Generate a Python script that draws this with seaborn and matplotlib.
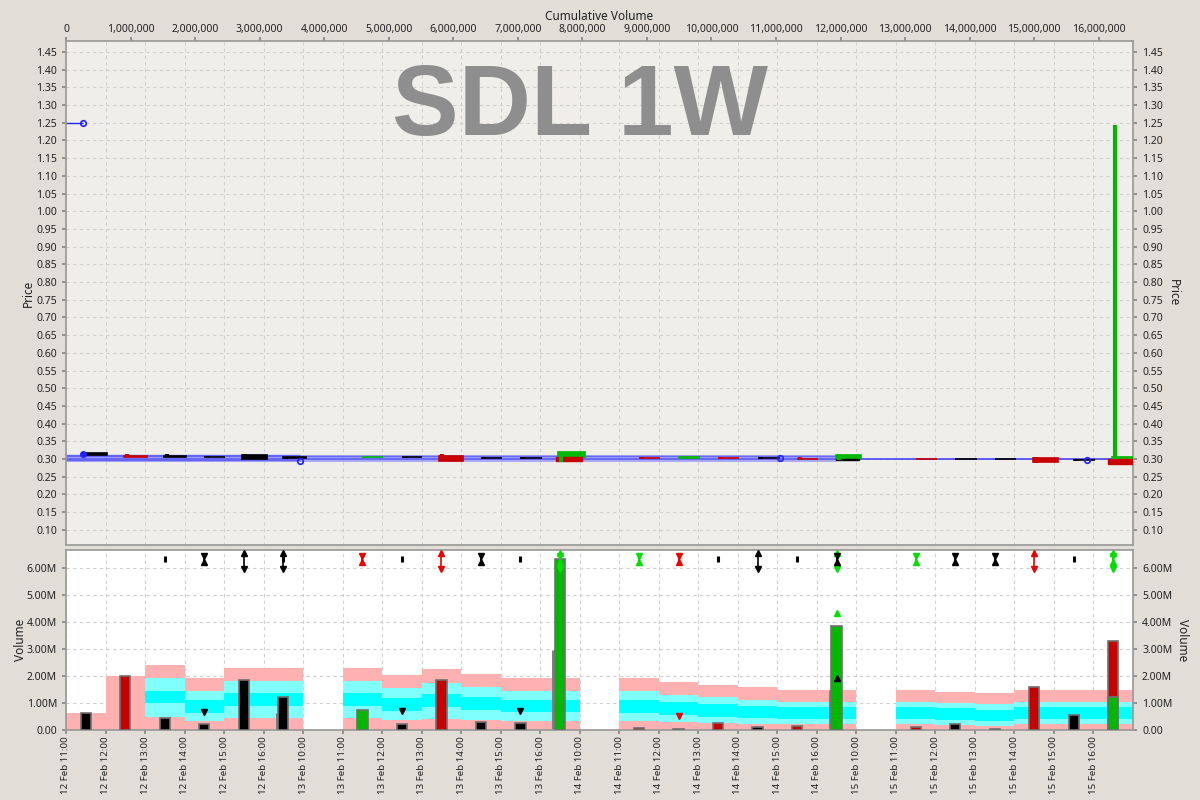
import matplotlib
matplotlib.use("Agg")
import matplotlib.pyplot as plt
import matplotlib.ticker as mticker
import numpy as np
import pandas as pd
import seaborn as sns

nan = np.nan

# ---- volume panel data (millions), one entry per hourly bucket ----
buckets = ["12 Feb 11:00", "12 Feb 12:00", "12 Feb 13:00", "12 Feb 14:00", "12 Feb 15:00", "12 Feb 16:00",
           "13 Feb 10:00", "13 Feb 11:00", "13 Feb 12:00", "13 Feb 13:00", "13 Feb 14:00", "13 Feb 15:00",
           "13 Feb 16:00", "14 Feb 10:00", "14 Feb 11:00", "14 Feb 12:00", "14 Feb 13:00", "14 Feb 14:00",
           "14 Feb 15:00", "14 Feb 16:00", "15 Feb 10:00", "15 Feb 11:00", "15 Feb 12:00", "15 Feb 13:00",
           "15 Feb 14:00", "15 Feb 15:00", "15 Feb 16:00"]
volume = [0.62, 2.00, 0.44, 0.22, 1.85, 1.22, nan, 0.73, 0.22, 1.85, 0.30, 0.26, 6.33, nan,
          0.08, 0.05, 0.26, 0.10, 0.16, 3.87, nan, 0.12, 0.21, 0.04, 1.61, 0.54, 3.31]
vol_color = ["k", "r", "k", "k", "k", "k", "", "g", "k", "r", "k", "k", "g", "",
             "r", "g", "r", "k", "r", "g", "", "r", "k", "n", "r", "k", "r"]
green_part = [nan] * 26 + [1.22]
ghost_vol = [nan, nan, nan, nan, nan, 0.63, nan, nan, nan, nan, nan, nan, 2.96, nan,
             nan, nan, nan, nan, nan, 1.48, nan, nan, nan, nan, nan, nan, nan]

# average-volume bands per bucket
pink_top = [0.63, 2.00, 2.41, 1.93, 2.30, 2.30, nan, 2.30, 2.03, 2.26, 2.07, 1.93, 1.93, nan,
            1.93, 1.78, 1.67, 1.59, 1.48, 1.48, nan, 1.48, 1.41, 1.37, 1.48, 1.48, 1.48]
lc_hi = [nan, nan, 1.93, 1.44, 1.81, 1.81, nan, 1.81, 1.55, 1.74, 1.59, 1.44, 1.44, nan,
         1.44, 1.30, 1.22, 1.11, 1.04, 1.04, nan, 1.04, 1.00, 0.96, 1.04, 1.04, 1.04]
c_hi = [nan, nan, 1.44, 1.11, 1.37, 1.37, nan, 1.37, 1.18, 1.33, 1.22, 1.11, 1.11, nan,
        1.11, 1.04, 0.96, 0.89, 0.85, 0.85, nan, 0.85, 0.81, 0.74, 0.85, 0.85, 0.85]
c_lo = [nan, nan, 1.00, 0.63, 0.88, 0.88, nan, 0.88, 0.70, 0.85, 0.74, 0.67, 0.67, nan,
        0.63, 0.56, 0.48, 0.44, 0.41, 0.41, nan, 0.41, 0.37, 0.33, 0.41, 0.41, 0.41]
lc_lo = [nan, nan, 0.49, 0.33, 0.45, 0.45, nan, 0.45, 0.37, 0.41, 0.37, 0.33, 0.33, nan,
         0.33, 0.30, 0.26, 0.22, 0.22, 0.22, nan, 0.22, 0.19, 0.15, 0.22, 0.22, 0.22]

# signal glyphs above the bars
sig_arrow = ["", "", "", "", "k", "k", "", "", "", "r", "", "", "g", "",
             "", "", "", "k", "", "g", "", "", "", "", "r", "", "g"]
sig_body = ["", "", "I", "H", "", "I", "", "H", "I", "", "H", "I", "H", "",
            "H", "H", "I", "", "I", "H", "", "H", "H", "H", "", "I", "H"]
sig_body_color = ["", "", "k", "k", "", "k", "", "r", "k", "", "k", "k", "g", "",
                  "g", "r", "k", "", "k", "k", "", "g", "k", "k", "", "k", "g"]
tri_bucket = [3, 8, 11, 15, 19, 19]
tri_level = [0.68, 0.70, 0.70, 0.52, 4.33, 1.93]
tri_mark = ["v", "v", "v", "v", "^", "^"]
tri_color = ["k", "k", "k", "r", "g", "k"]

# ---- price panel data (cumulative volume in millions) ----
cs_start = [0.26, 0.90, 1.52, 2.14, 2.73, 3.36, 4.59, 5.20, 5.78, 6.43, 7.03, 7.62,
            8.88, 9.50, 10.10, 10.72, 11.32, 11.93, 13.17, 13.77, 14.39, 14.98, 15.60, 16.20]
cs_end = [0.64, 1.26, 1.86, 2.46, 3.11, 3.72, 4.91, 5.51, 6.15, 6.75, 7.37, 8.04,
          9.20, 9.81, 10.42, 11.06, 11.65, 12.31, 13.49, 14.11, 14.72, 15.37, 15.94, 16.60]
cs_open = [0.316, 0.309, 0.308, 0.307, 0.312, 0.305, 0.305, 0.306, 0.309, 0.304, 0.304, 0.305,
           0.303, 0.304, 0.303, 0.303, 0.301, 0.299, 0.301, 0.301, 0.300, 0.303, 0.298, 0.302]
cs_close = [0.311, 0.307, 0.307, 0.306, 0.301, 0.302, 0.306, 0.305, 0.295, 0.303, 0.303, 0.320,
            0.302, 0.305, 0.302, 0.302, 0.300, 0.311, 0.300, 0.299, 0.300, 0.291, 0.297, 0.307]
cs_high = [0.318, 0.315, 0.314, 0.309, 0.313, 0.307, 0.307, 0.307, 0.313, 0.306, 0.306, 0.321,
           0.305, 0.306, 0.305, 0.306, 0.306, 0.314, 0.303, 0.301, 0.300, 0.305, 0.300, 1.245]
cs_low = [0.310, 0.307, 0.307, 0.306, 0.300, 0.300, 0.304, 0.303, 0.293, 0.301, 0.301, 0.292,
          0.301, 0.304, 0.301, 0.300, 0.300, 0.296, 0.300, 0.299, 0.300, 0.288, 0.295, 0.300]
cs_color = ["k", "r", "k", "k", "k", "k", "g", "k", "r", "k", "k", "g",
            "r", "g", "r", "k", "r", "g", "r", "k", "k", "r", "k", "g"]
ov_start = [7.59, 11.93, 16.15]
ov_end = [7.99, 12.28, 16.60]
ov_lo = [0.293, 0.297, 0.285]
ov_hi = [0.306, 0.300, 0.301]
ov_color = ["r", "k", "r"]

ref_level = [0.300, 0.304, 0.308, 0.296, 0.312, 1.250]
ref_end = [16.20, 11.93, 11.93, 3.62, 3.62, 0.27]
ref_pt_x = [0.27, 3.62, 11.06, 15.82]
ref_pt_y = [1.250, 0.295, 0.303, 0.298]

cmap = {"k": "black", "r": "#c80000", "g": "#00b800", "n": "#888888"}
sig_cmap = {"k": "black", "r": "#ee0000", "g": "#00e000"}

bg = "#e2ded7"
sns.set_theme(style="ticks", rc={"axes.edgecolor": "#9a9a9a", "xtick.color": "#888888",
                                 "ytick.color": "#888888", "xtick.labelcolor": "#222222",
                                 "ytick.labelcolor": "#222222", "grid.color": "#d0d0d0",
                                 "grid.linestyle": (0, (3, 3)), "grid.linewidth": 0.8})
plt.rcParams["font.family"] = ["Noto Sans", "DejaVu Sans"]
tick_fs = 7.5
lab_fs = 8.5

fig = plt.figure(figsize=(12, 8), dpi=100, facecolor=bg)
ax_p = fig.add_axes([66 / 1200, 1 - 545 / 800, 1067 / 1200, 504 / 800])
ax_v = fig.add_axes([66 / 1200, 1 - 730 / 800, 1067 / 1200, 180 / 800])

# ================= volume panel =================
vdf = pd.DataFrame({"bucket": buckets, "volume": volume, "color": vol_color,
                    "pink_top": pink_top, "lc_hi": lc_hi, "c_hi": c_hi, "c_lo": c_lo,
                    "lc_lo": lc_lo, "green_part": green_part})
ax_v.set_facecolor("white")
for col, fc in [("pink_top", "#ffb0b0"), ("lc_hi", "#80ffff"), ("c_hi", "#00ffff"),
                ("c_lo", "#80ffff"), ("lc_lo", "#ffb0b0")]:
    sns.barplot(data=vdf, x="bucket", y=col, order=buckets, color=fc, saturation=1,
                width=1.0, linewidth=0, errorbar=None, ax=ax_v, zorder=1)

pos = np.arange(len(buckets))
ax_v.vlines(pos - 0.17, 0, ghost_vol, color="#808080", lw=2.2, zorder=2)

bars = vdf.dropna(subset=["volume"])
pal = {b: cmap[c] for b, c in zip(bars["bucket"], bars["color"])}
sns.barplot(data=bars, x="bucket", y="volume", hue="bucket", order=buckets, palette=pal,
            dodge=False, width=0.26, saturation=1, edgecolor="#707070", linewidth=1.2,
            errorbar=None, legend=False, ax=ax_v, zorder=3)
sns.barplot(data=vdf, x="bucket", y="green_part", order=buckets, color=cmap["g"], saturation=1,
            width=0.26, edgecolor="#707070", linewidth=1.2, errorbar=None, ax=ax_v, zorder=4)

# signal glyphs
for i in pos:
    a = sig_arrow[i]
    if a:
        c = sig_cmap[a]
        ax_v.vlines(i, 5.95, 6.55, color=c, lw=1.2, zorder=5)
        ax_v.plot(i, 6.55, marker="^", ms=4.5, color=c, zorder=5, clip_on=False)
        ax_v.plot(i, 5.95, marker="v", ms=4.5, color=c, zorder=5)
    b = sig_body[i]
    if b:
        c = sig_cmap[sig_body_color[i]]
        if b == "I":
            ax_v.vlines(i, 6.24, 6.44, color=c, lw=2.2, zorder=6)
        else:
            ax_v.vlines(i, 6.2, 6.45, color=c, lw=1.4, zorder=6)
            ax_v.plot(i, 6.44, marker="v", ms=5, color=c, zorder=6)
            ax_v.plot(i, 6.21, marker="^", ms=5, color=c, zorder=6)
for b, lvl, m, c in zip(tri_bucket, tri_level, tri_mark, tri_color):
    ax_v.plot(b, lvl, marker=m, ms=4.5, color=sig_cmap[c], zorder=7, ls="none")

ax_v.set_xlim(-0.5, len(buckets) - 0.5)
ax_v.set_ylim(0, 6.67)
ax_v.set_xticks(pos - 0.5)
ax_v.set_xticklabels(buckets, rotation=90, fontsize=7)
ax_v.set_xlabel("")
ax_v.yaxis.set_major_locator(mticker.MultipleLocator(1.0))
ax_v.yaxis.set_major_formatter(mticker.FuncFormatter(lambda v, p: "0.00" if v == 0 else f"{v:.2f}M"))
ax_v.tick_params(axis="y", labelsize=tick_fs, length=3)
ax_v.tick_params(axis="x", length=3, pad=1.5)
ax_v.tick_params(axis="y", right=True, labelright=True)
ax_v.set_ylabel("Volume", fontsize=lab_fs, color="#222222", labelpad=0)
ax_v.grid(True)
for gl in ax_v.get_xgridlines() + ax_v.get_ygridlines():
    gl.set_zorder(1.5)
vr = ax_v.secondary_yaxis("right")
vr.set_yticks([])
vr.set_ylabel("Volume", fontsize=lab_fs, color="#222222", rotation=270, labelpad=40)
vr.spines["right"].set_visible(False)

# ================= price panel =================
ax_p.set_facecolor("#efeeea")
xmax = 16.53
ax_p.set_xlim(0, xmax)
ax_p.set_ylim(0.057, 1.481)

for lvl, end, lw, col, al in zip(ref_level, ref_end, [1.2, 5, 1.0, 1.0, 1.0, 1.0],
                                 ["#3333ff", "#7070ff", "#5555ff", "#5555ff", "#5555ff", "#2222ff"],
                                 [0.9, 0.55, 0.8, 0.8, 0.8, 1.0]):
    ax_p.hlines(lvl, 0, end, color=col, lw=lw, alpha=al, zorder=2)
ax_p.plot(ref_pt_x, ref_pt_y, ls="none", marker="o", ms=4, mfc="none", mec="#2222ff", mew=1.2, zorder=6)
ax_p.plot(cs_start[0], cs_high[0] - 0.004, marker="o", ms=4, color="#2222ff", zorder=6)

for x0, x1, o, c, h, l, col in zip(cs_start, cs_end, cs_open, cs_close, cs_high, cs_low, cs_color):
    lo, hi = min(o, c), max(o, c)
    ax_p.bar(x0, hi - lo, width=x1 - x0, bottom=lo, align="edge", color=cmap[col],
             edgecolor=cmap[col], linewidth=1.2, zorder=3)
for x0, x1, lo, hi, col in zip(ov_start, ov_end, ov_lo, ov_hi, ov_color):
    ax_p.bar(x0, hi - lo, width=x1 - x0, bottom=lo, align="edge", color=cmap[col],
             edgecolor=cmap[col], linewidth=1.0, zorder=4)
for x0, h, l, col in zip(cs_start, cs_high, cs_low, cs_color):
    ax_p.vlines(x0 + 0.05, l, h, color=cmap[col], lw=3, zorder=5)

ax_p.xaxis.tick_top()
ax_p.xaxis.set_label_position("top")
ax_p.set_xticks(np.arange(0, 17) * 1.0)
ax_p.xaxis.set_major_formatter(mticker.FuncFormatter(lambda v, p: f"{v * 1e6:,.0f}"))
ax_p.set_xticks(np.arange(1, len(buckets)) * xmax / len(buckets), minor=True)
ax_p.set_xlabel("Cumulative Volume", fontsize=lab_fs, color="#222222", labelpad=3)
ax_p.set_yticks(np.round(np.arange(0.10, 1.46, 0.05), 2))
ax_p.yaxis.set_major_formatter(mticker.FormatStrFormatter("%.2f"))
ax_p.tick_params(axis="both", labelsize=tick_fs, length=3)
ax_p.tick_params(axis="x", which="major", pad=1)
ax_p.tick_params(axis="x", which="minor", length=0)
ax_p.tick_params(axis="y", right=True, labelright=True)
ax_p.set_ylabel("Price", fontsize=lab_fs, color="#222222", labelpad=1)
ax_p.grid(True, axis="y", which="major")
ax_p.grid(True, axis="x", which="minor")
pr = ax_p.secondary_yaxis("right")
pr.set_yticks([])
pr.set_ylabel("Price", fontsize=lab_fs, color="#222222", rotation=270, labelpad=34)
pr.spines["right"].set_visible(False)

ax_p.text(0.482, 0.866, "SDL 1W", transform=ax_p.transAxes, ha="center", va="center",
          fontsize=72, fontweight="bold", family="Liberation Sans", color="#8e8e8e", zorder=1)

fig.savefig("out.png", dpi=100, facecolor=bg)
